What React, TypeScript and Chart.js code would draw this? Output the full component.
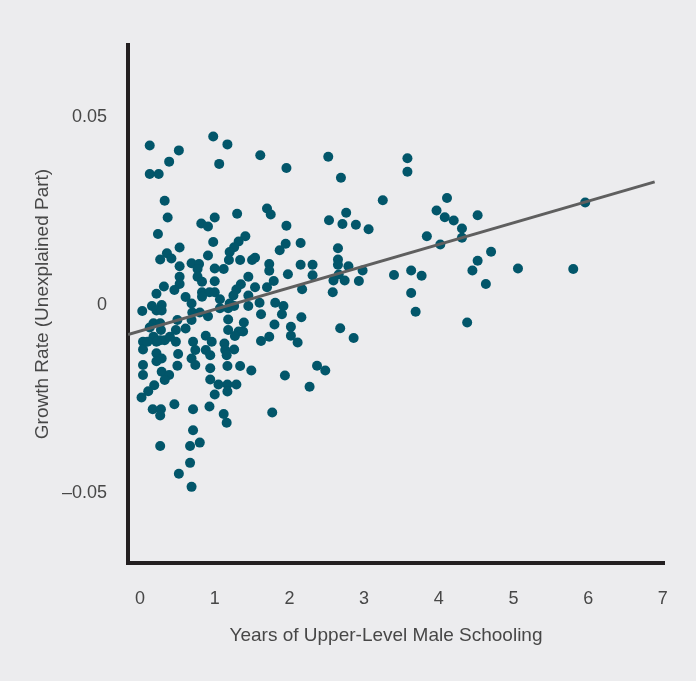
import { useEffect, useRef } from "react";
import { Chart, registerables } from "chart.js";

Chart.register(...registerables);

// ---- data ----
const xTickValues = [0, 1, 2, 3, 4, 5, 6, 7];
const yTickValues = [-0.05, 0, 0.05];
const yTickLabels = ["\u20130.05", "0", "0.05"];
const xAxisTitle = "Years of Upper-Level Male Schooling";
const yAxisTitle = "Growth Rate (Unexplained Part)";

// fitted regression line (endpoints)
const trendX = [-0.16, 6.89];
const trendY = [-0.0084, 0.0323];

// [years of upper-level male schooling, unexplained growth rate]
const upperPoints: [number, number][] = [
  [0.13, 0.042], [0.52, 0.0407], [0.39, 0.0377], [0.13, 0.0344], [0.25, 0.0344],
  [0.98, 0.0444], [1.17, 0.0423], [1.06, 0.0371], [1.61, 0.0394], [1.96, 0.036],
  [0.33, 0.0273], [0.37, 0.0228], [0.24, 0.0184], [0.82, 0.0212], [0.91, 0.0204],
  [1.0, 0.0228], [1.3, 0.0238], [1.7, 0.0252], [1.75, 0.0236], [1.96, 0.0206],
  [1.41, 0.0178], [1.32, 0.0164], [1.26, 0.0149], [1.2, 0.0136], [0.98, 0.0163],
  [0.53, 0.0148], [0.36, 0.0133], [0.27, 0.0116], [0.42, 0.0119], [0.53, 0.0098],
  [0.91, 0.0127], [0.69, 0.0106], [0.79, 0.0104], [0.77, 0.0091], [1.0, 0.0092],
  [1.12, 0.0091], [1.19, 0.0115], [1.34, 0.0115], [1.5, 0.0115], [1.54, 0.0121],
  [1.87, 0.0141], [1.95, 0.0158], [2.15, 0.016], [1.73, 0.0104], [1.73, 0.0086],
  [2.15, 0.0102], [2.31, 0.0102], [2.31, 0.0074], [1.98, 0.0077], [1.45, 0.007],
  [1.79, 0.0059], [0.53, 0.007], [0.77, 0.007], [0.83, 0.0057], [1.0, 0.0058],
  [0.53, 0.0051], [0.32, 0.0044], [0.46, 0.0035], [0.22, 0.0025], [0.61, 0.0016],
  [0.83, 0.0029], [0.93, 0.0029], [1.0, 0.0029], [0.83, 0.0017], [1.35, 0.005],
  [1.29, 0.0036], [1.54, 0.0042], [1.7, 0.0042], [2.17, 0.0037], [1.25, 0.002],
  [1.45, 0.002], [1.07, 0.001],
];

const lowerPoints: [number, number][] = [
  [0.69, -0.0001], [1.2, -0.0001], [1.45, -0.0008], [1.6, 0.0001], [1.81, 0.0001],
  [1.92, -0.0008], [0.16, -0.0008], [0.29, -0.0005], [0.03, -0.0021], [0.22, -0.002],
  [0.29, -0.002], [0.7, -0.0025], [0.8, -0.0025], [0.91, -0.0035], [1.07, -0.0014],
  [1.18, -0.0014], [1.26, -0.0008], [1.62, -0.003], [1.9, -0.003], [2.16, -0.0038],
  [1.8, -0.0057], [2.02, -0.0063], [2.02, -0.0087], [2.11, -0.0105], [1.73, -0.009],
  [1.62, -0.0101], [0.18, -0.0054], [0.27, -0.0054], [0.13, -0.0065], [0.5, -0.0045],
  [0.69, -0.0045], [1.18, -0.0044], [1.39, -0.0052], [0.48, -0.0072], [0.61, -0.0068],
  [0.28, -0.0072], [1.38, -0.0076], [1.32, -0.0076], [1.27, -0.0088], [1.18, -0.0072],
  [0.88, -0.0087], [0.96, -0.0103], [0.71, -0.0103], [1.13, -0.0108], [0.48, -0.0103],
  [0.33, -0.0099], [0.4, -0.009], [0.18, -0.009], [0.27, -0.0099], [0.04, -0.0103],
  [0.04, -0.0124], [0.22, -0.0103], [0.1, -0.0103], [0.74, -0.0125], [0.88, -0.0125],
  [0.94, -0.0139], [1.14, -0.0125], [1.26, -0.0124], [1.16, -0.0139], [0.22, -0.0134],
  [0.29, -0.0148], [0.22, -0.0155], [0.51, -0.0136], [0.69, -0.0148], [0.74, -0.0165],
  [0.5, -0.0167], [0.04, -0.0165], [0.04, -0.0192], [0.29, -0.0183], [0.39, -0.0192],
  [0.33, -0.0205], [0.94, -0.0174], [1.17, -0.0168], [1.34, -0.0168], [1.49, -0.018],
  [1.94, -0.0193], [2.37, -0.0167], [2.27, -0.0223], [0.94, -0.0204], [1.05, -0.0217],
  [1.17, -0.0217], [1.29, -0.0217], [1.17, -0.0236], [1.0, -0.0244], [0.19, -0.0219],
  [0.11, -0.0235], [0.02, -0.0252], [0.17, -0.0283], [0.28, -0.0283], [0.27, -0.03],
  [0.46, -0.027], [0.71, -0.0283], [0.93, -0.0276], [1.12, -0.0296], [1.16, -0.0319],
  [1.77, -0.0292], [0.71, -0.0339], [0.8, -0.0372], [0.67, -0.0381], [0.27, -0.0381],
  [0.67, -0.0426], [0.52, -0.0455], [0.69, -0.049],
];

const rightPoints: [number, number][] = [
  [2.52, 0.039], [2.69, 0.0334], [3.58, 0.0386], [3.58, 0.035], [3.25, 0.0274],
  [2.53, 0.0221], [2.76, 0.0241], [2.71, 0.0211], [2.89, 0.0209], [3.06, 0.0197],
  [4.11, 0.028], [3.97, 0.0247], [4.08, 0.0229], [4.2, 0.022], [4.52, 0.0234],
  [4.31, 0.0199], [4.31, 0.0174], [3.84, 0.0178], [4.02, 0.0156], [4.7, 0.0137],
  [4.52, 0.0113], [4.45, 0.0087], [4.63, 0.0051], [5.06, 0.0092], [2.65, 0.0146],
  [2.65, 0.0116], [2.65, 0.0102], [2.79, 0.0098], [2.98, 0.0087], [2.66, 0.0076],
  [2.59, 0.006], [2.74, 0.006], [2.93, 0.0059], [2.58, 0.0029], [3.4, 0.0075],
  [3.63, 0.0087], [3.77, 0.0073], [3.63, 0.0027], [3.69, -0.0023], [4.38, -0.0052],
  [2.68, -0.0067], [2.86, -0.0093], [2.48, -0.018], [5.96, 0.0268], [5.8, 0.0091],
];

// ---- styles ----
const BG = "#ececee";
const DOT = "#02566a";
const AXIS = "#231f20";
const TEXT = "#474747";
const FONT = "'Liberation Sans', Arial, Helvetica, sans-serif";

export default function App() {
  const ref = useRef<HTMLCanvasElement | null>(null);

  useEffect(() => {
    document.body.style.margin = "0";
    document.body.style.background = BG;
    if (!ref.current) return;

    const bgPlugin = {
      id: "bgFill",
      beforeDraw(chart: any) {
        const { ctx, width, height } = chart;
        ctx.save();
        ctx.fillStyle = BG;
        ctx.fillRect(0, 0, width, height);
        ctx.restore();
      },
    };

    const xTitlePlugin = {
      id: "xTitle",
      afterDraw(chart: any) {
        const { ctx, chartArea } = chart;
        ctx.save();
        ctx.font = `19px ${FONT}`;
        ctx.fillStyle = TEXT;
        ctx.textAlign = "center";
        ctx.textBaseline = "middle";
        ctx.fillText(
          xAxisTitle,
          (chartArea.left + chartArea.right) / 2 - 10,
          chartArea.bottom + 73
        );
        ctx.restore();
      },
    };

    const allPoints = [...upperPoints, ...lowerPoints, ...rightPoints];

    const chart = new Chart(ref.current, {
      type: "scatter",
      data: {
        datasets: [
          {
            label: "trend",
            data: trendX.map((x, i) => ({ x, y: trendY[i] })),
            showLine: true,
            borderColor: "#5f5f5f",
            borderWidth: 3,
            pointRadius: 0,
            order: 0,
          } as any,
          {
            label: "countries",
            data: allPoints.map(([x, y]) => ({ x, y })),
            backgroundColor: DOT,
            borderWidth: 0,
            pointRadius: 5,
            order: 1,
          },
        ],
      },
      options: {
        animation: false,
        responsive: false,
        devicePixelRatio: 1,
        layout: { padding: { left: 0, right: 32, top: 45, bottom: 0 } },
        plugins: {
          legend: { display: false },
          tooltip: { enabled: false },
        },
        scales: {
          x: {
            type: "linear",
            min: -0.161,
            max: 7.015,
            afterBuildTicks: (s: any) => {
              s.ticks = xTickValues.map((v) => ({ value: v }));
            },
            afterFit: (s: any) => {
              s.height = 118;
            },
            grid: { display: false, drawTicks: false },
            border: { display: true, color: AXIS, width: 4 },
            ticks: {
              padding: 25,
              color: TEXT,
              font: { family: FONT, size: 18 },
              callback: (v: any) => String(v),
            },
          },
          y: {
            type: "linear",
            min: -0.0693,
            max: 0.0688,
            afterBuildTicks: (s: any) => {
              s.ticks = yTickValues.map((v) => ({ value: v }));
            },
            afterFit: (s: any) => {
              s.width = 128;
            },
            grid: { display: false, drawTicks: false },
            border: { display: true, color: AXIS, width: 4 },
            ticks: {
              padding: 21,
              labelOffset: 2,
              color: TEXT,
              font: { family: FONT, size: 18 },
              callback: (v: any) => {
                const i = yTickValues.findIndex((t) => Math.abs(t - v) < 1e-9);
                return i >= 0 ? yTickLabels[i] : "";
              },
            },
            title: {
              display: true,
              text: yAxisTitle,
              color: TEXT,
              font: { family: FONT, size: 19 },
              padding: { top: 31, bottom: 0 },
            },
          },
        },
      },
      plugins: [bgPlugin, xTitlePlugin],
    });

    return () => chart.destroy();
  }, []);

  return (
    <canvas
      ref={ref}
      width={696}
      height={681}
      style={{ display: "block", width: 696, height: 681 }}
    />
  );
}
